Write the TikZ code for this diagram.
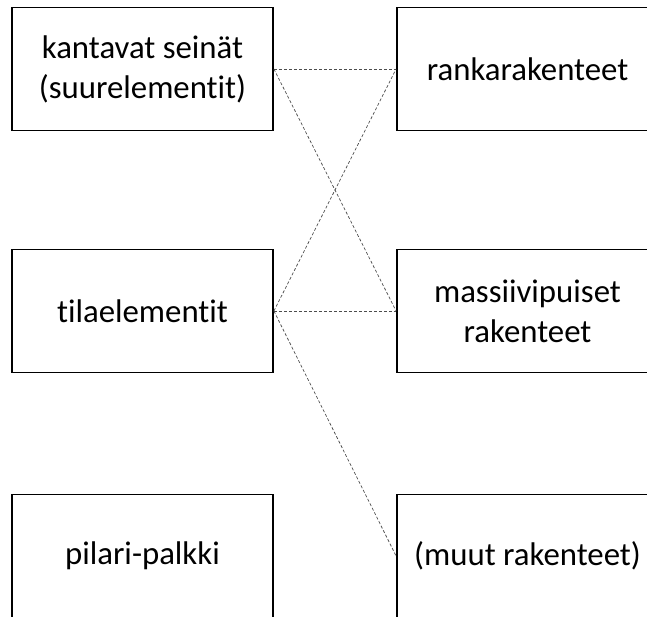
\documentclass[tikz,border=0pt]{standalone}
\usepackage{fontspec}
\setmainfont{Carlito}[RawFeature=-liga]
\begin{document}
\begin{tikzpicture}[x=1pt,y=-1pt]

        \useasboundingbox (0,0) rectangle (647,616);

        \begin{scope}[every node/.style={rectangle,draw,line width=1.8pt,minimum width=261pt,minimum height=123pt,align=center,font=\fontsize{32.8}{40}\selectfont}]
          \node (seinat)   at (142.5,69)  {kantavat seinät\\(suurelementit)};
          \node (tila)     at (142.5,311) {tilaelementit};
          \node (pilari)   at (142.5,556) {pilari-palkki};
          \node (ranka)    at (527.5,69)  {rankarakenteet};
          \node (massiivi) at (527.5,311) {massiivipuiset\\rakenteet};
          \node (muut)     at (527.5,556) {(muut rakenteet)};
        \end{scope}

        \begin{scope}[every edge/.style={draw,line width=0.7pt,dash pattern=on 3pt off 2pt,color=black!70}]
          \path (seinat.east) edge (ranka.west);
          \path (seinat.east) edge (massiivi.west);
          \path (tila.east)   edge (ranka.west);
          \path (tila.east)   edge (massiivi.west);
          \path (tila.east)   edge (muut.west);
        \end{scope}

      \end{tikzpicture}
\end{document}
